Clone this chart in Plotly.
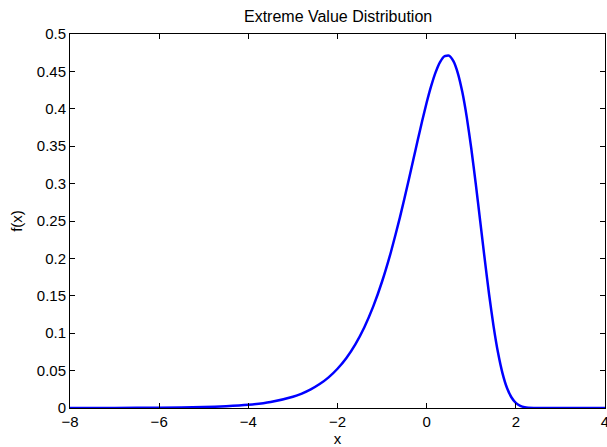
import plotly.graph_objects as go

x_values = [-8, -7, -6, -5, -4.5, -4, -3.5, -3, -2.8, -2.6, -2.4, -2.2, -2.0,
            -1.8, -1.6, -1.4, -1.2, -1.0, -0.8, -0.6, -0.4, -0.3, -0.2, -0.1,
            0.0, 0.1, 0.2, 0.3, 0.4, 0.5, 0.6, 0.7, 0.8, 0.9, 1.0, 1.1, 1.2,
            1.3, 1.4, 1.5, 1.6, 1.7, 1.8, 1.9, 2.0, 2.1, 2.2, 2.4, 2.6,
            3.0, 3.5, 4.0]
f_values = [0.0000, 0.0001, 0.0003, 0.0012, 0.0022, 0.0042, 0.0080, 0.0150,
            0.0193, 0.0249, 0.0320, 0.0410, 0.0525, 0.0669, 0.0851, 0.1077,
            0.1355, 0.1691, 0.2089, 0.2548, 0.3054, 0.3318, 0.3582, 0.3840,
            0.4084, 0.4303, 0.4487, 0.4625, 0.4703, 0.4710, 0.4637, 0.4475,
            0.4223, 0.3886, 0.3473, 0.3004, 0.2503, 0.1999, 0.1521, 0.1095,
            0.0741, 0.0467, 0.0271, 0.0144, 0.0069, 0.0029, 0.0011, 0.0001,
            0.0000, 0.0000, 0.0000, 0.0000]

x_ticks = [-8, -6, -4, -2, 0, 2, 4]
x_tick_labels = ["\u22128", "\u22126", "\u22124", "\u22122", "0", "2", "4"]
y_ticks = [0, 0.05, 0.1, 0.15, 0.2, 0.25, 0.3, 0.35, 0.4, 0.45, 0.5]
y_tick_labels = ["0", "0.05", "0.1", "0.15", "0.2", "0.25", "0.3", "0.35",
                 "0.4", "0.45", "0.5"]

title_text = "Extreme Value Distribution"
x_label = "x"
y_label = "f(x)"

font_family = "Liberation Sans, Arial, Helvetica, sans-serif"

fig = go.Figure()
fig.add_trace(go.Scatter(
    x=x_values, y=f_values, mode="lines",
    line=dict(color="#0000FF", width=2.5, shape="spline", smoothing=0.5),
    showlegend=False,
    cliponaxis=False,
))

axis_common = dict(
    showgrid=False, zeroline=False, showline=True, linecolor="black",
    linewidth=1, mirror="allticks", ticks="inside", ticklen=5,
    tickcolor="black", automargin=False, ticklabeloverflow="allow",
    tickfont=dict(family=font_family, size=15, color="black"),
)

fig.update_layout(
    width=607, height=447,
    margin=dict(l=70, r=2, t=34, b=39),
    paper_bgcolor="white", plot_bgcolor="white",
    font=dict(family=font_family, size=15, color="black"),
    title=dict(text=title_text, x=0.557, xanchor="center", y=0.964,
               yanchor="middle", font=dict(family=font_family, size=16)),
    xaxis=dict(range=[-8, 4], tickvals=x_ticks, ticktext=x_tick_labels,
               title=dict(text=x_label, standoff=0,
                          font=dict(family=font_family, size=15)),
               **axis_common),
    yaxis=dict(range=[0, 0.5], tickvals=y_ticks, ticktext=y_tick_labels,
               title=dict(text=y_label, standoff=10,
                          font=dict(family=font_family, size=15)),
               **axis_common),
)

fig.write_html(
    "out.html",
    config={"displayModeBar": False},
    post_script="document.body.style.margin='0';document.body.style.overflow='hidden';",
)
